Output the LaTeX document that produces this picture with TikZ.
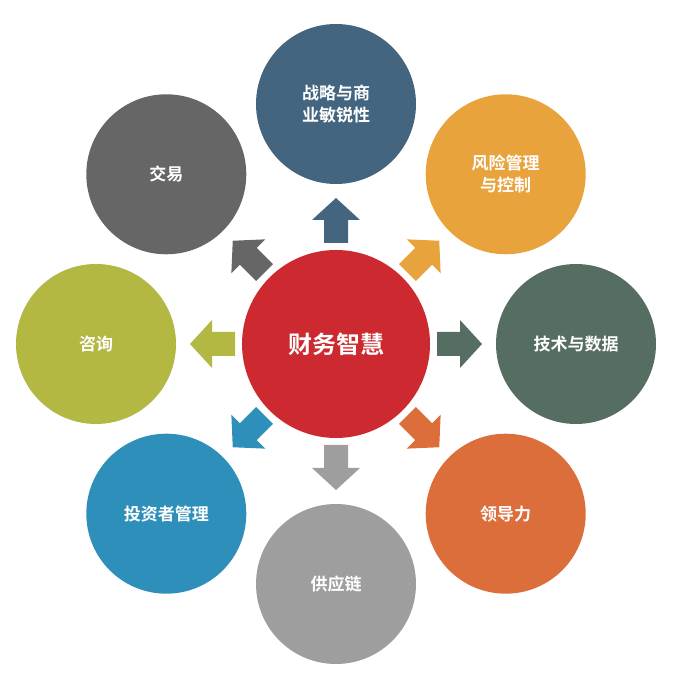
\documentclass[tikz,border=0pt]{standalone}
\usetikzlibrary{calc}
\usepackage{fontspec}
\newfontfamily\cjk{Noto Sans CJK SC Bold}
\begin{document}
\begin{tikzpicture}[x=1pt,y=1pt,
  outer/.style={circle,minimum size=160pt,inner sep=0pt,text=white,font=\cjk\fontsize{17}{22}\selectfont,align=center},
  center/.style={circle,minimum size=188pt,inner sep=0pt,text=white,font=\cjk\fontsize{24}{28}\selectfont,fill=cRed}]
\definecolor{cRed}{HTML}{CC2A30}
\definecolor{c1}{HTML}{44657F}
\definecolor{c2}{HTML}{E8A33D}
\definecolor{c3}{HTML}{566E62}
\definecolor{c4}{HTML}{DC6E3C}
\definecolor{c5}{HTML}{9E9E9E}
\definecolor{c6}{HTML}{2E8FBB}
\definecolor{c7}{HTML}{B3B843}
\definecolor{c8}{HTML}{666666}
\useasboundingbox (0,0) rectangle (682,700);
\coordinate (O) at (336,356);
\node[center] (mid) at (O) {财务智慧};
\foreach \a/\c/\t/\n in {90/c1/{战略与商\\业敏锐性}/n1, 45/c2/{风险管理\\与控制}/n2, 0/c3/{技术与数据}/n3, -45/c4/{领导力}/n4, -90/c5/{供应链}/n5, -135/c6/{投资者管理}/n6, 180/c7/{咨询}/n7, 135/c8/{交易}/n8}{
  \node[outer,fill=\c] (\n) at ($(O)+(\a:240)$) {\t};
  \fill[\c,shift={(O)},rotate=\a] (101,-12) -- (124,-12) -- (124,-24) -- (146,0) -- (124,24) -- (124,12) -- (101,12) -- cycle;
}
\end{tikzpicture}
\end{document}
